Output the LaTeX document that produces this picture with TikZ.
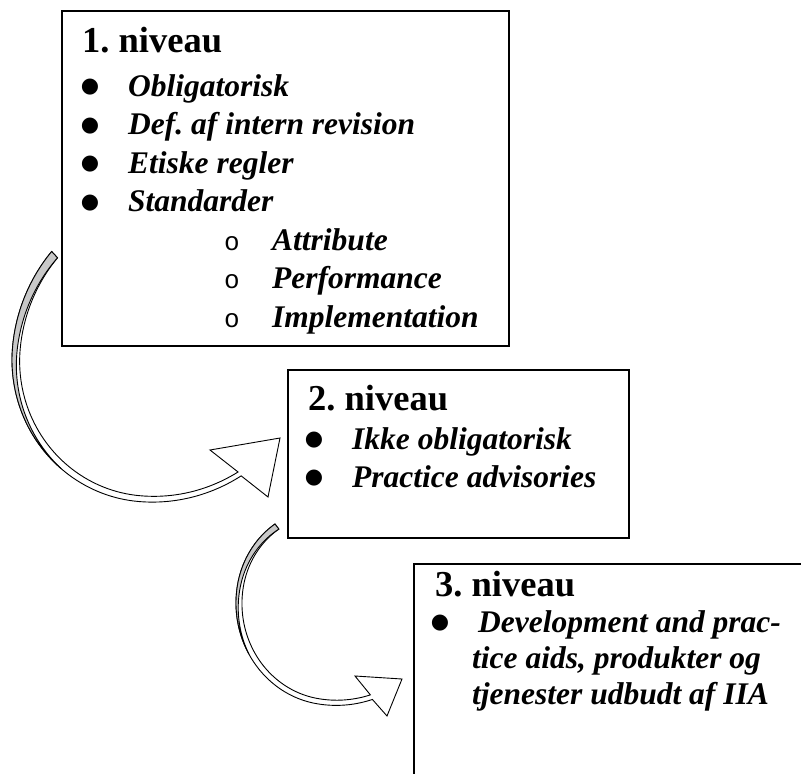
\documentclass[tikz,border=0pt]{standalone}
\usepackage{fontspec}
\setmainfont{Liberation Serif}
\newfontfamily\markfont{Liberation Mono}
\newfontfamily\dotfont{DejaVu Sans}
\frenchspacing
\definecolor{shadegrey}{HTML}{C8C8C8}
\tikzset{
  boxframe/.style={draw=black, line width=1.5pt, fill=white, inner sep=0pt,
    anchor=north west, rectangle},
  headtxt/.style={anchor=base west, inner sep=0pt,
    font=\fontsize{36.5}{40}\selectfont\bfseries},
  itemtxt/.style={anchor=base west, inner sep=0pt,
    font=\fontsize{31.5}{36}\selectfont\bfseries\itshape},
  bul/.style={anchor=base, inner sep=0pt, font=\fontsize{21}{23}\dotfont},
  subbul/.style={anchor=base, inner sep=0pt, font=\fontsize{26}{30}\selectfont\markfont},
  arrowbody/.style={draw=black, line width=0.9pt, fill=white, line join=miter},
  arrowshade/.style={draw=black, line width=0.9pt, fill=shadegrey, line join=round},
  declare function={
    ka(\t)=1+0.045*max(0,(\t-185)/42)^2+0.05*max(0,(95-\t)/44)^2;
    wa(\t)=5+3.6*(\t-51)/176;
    ma(\t)=8.6*max(0,(\t-130)/97);
    kb(\t)=1+0.035*max(0,(100-\t)/34)^2-0.024*max(0,(\t-190)/42.5)^2;
    wb(\t)=5+1.4*(\t-66)/166.5;
    mb(\t)=6.4*max(0,(\t-150)/82.5);
  }
}
\begin{document}
\begin{tikzpicture}[x=1pt, y=-1pt]
\useasboundingbox (0,0) rectangle (801,774);
\clip (0,0) rectangle (801,774);

% arrow heads
\coordinate (a1tip) at (280,438);
\coordinate (a1back) at (210,450);
\coordinate (a1wing) at (268,497);
\coordinate (a2tip) at (402,679);
\coordinate (a2back) at (355,676);
\coordinate (a2wing) at (387,716);

% curved arrow from level 1 to level 2
\draw[arrowbody]
  plot[domain=227:51, samples=90, variable=\t]
    ({150+138*ka(\t)*cos(\t)}, {360+142*ka(\t)*sin(\t)})
  -- (a1wing) -- (a1tip) -- (a1back)
  -- plot[domain=51:227, samples=90, variable=\t]
    ({150+(138*ka(\t)-wa(\t))*cos(\t)}, {360+(142*ka(\t)-wa(\t))*sin(\t)})
  -- cycle;
\draw[arrowshade]
  plot[domain=227:130, samples=60, variable=\t]
    ({150+138*ka(\t)*cos(\t)}, {360+142*ka(\t)*sin(\t)})
  -- plot[domain=130:227, samples=60, variable=\t]
    ({150+(138*ka(\t)-ma(\t))*cos(\t)}, {360+(142*ka(\t)-ma(\t))*sin(\t)})
  -- cycle;

% curved arrow from level 2 to level 3
\draw[arrowbody]
  plot[domain=232.5:66, samples=90, variable=\t]
    ({332+96*kb(\t)*cos(\t)}, {603+102*kb(\t)*sin(\t)})
  -- (a2wing) -- (a2tip) -- (a2back)
  -- plot[domain=66:232.5, samples=90, variable=\t]
    ({332+(96*kb(\t)-wb(\t))*cos(\t)}, {603+(102*kb(\t)-wb(\t))*sin(\t)})
  -- cycle;
\draw[arrowshade]
  plot[domain=232.5:150, samples=60, variable=\t]
    ({332+96*kb(\t)*cos(\t)}, {603+102*kb(\t)*sin(\t)})
  -- plot[domain=150:232.5, samples=60, variable=\t]
    ({332+(96*kb(\t)-mb(\t))*cos(\t)}, {603+(102*kb(\t)-mb(\t))*sin(\t)})
  -- cycle;

% level boxes
\node[boxframe, minimum width=447pt, minimum height=335pt] (box1) at (61,10) {};
\node[boxframe, minimum width=341pt, minimum height=168pt] (box2) at (287,369) {};
\node[boxframe, minimum width=420pt, minimum height=260pt] (box3) at (413,563) {};

% level 1
\node[headtxt] (h1) at (82,52) {1. niveau};
\node[bul] (b1a) at (90,92.5) {●};
\node[bul] (b1b) at (90,131) {●};
\node[bul] (b1c) at (90,169.5) {●};
\node[bul] (b1d) at (90,208) {●};
\node[itemtxt] (t1a) at (128,96) {Obligatorisk};
\node[itemtxt] (t1b) at (128,134.5) {Def. af intern revision};
\node[itemtxt] (t1c) at (128,173) {Etiske regler};
\node[itemtxt] (t1d) at (128,211.5) {Standarder};
\node[subbul] (s1a) at (232,250) {o};
\node[subbul] (s1b) at (232,288.5) {o};
\node[subbul] (s1c) at (232,327) {o};
\node[itemtxt] (u1a) at (272,250) {Attribute};
\node[itemtxt] (u1b) at (272,288.5) {Performance};
\node[itemtxt] (u1c) at (272,327) {Implementation};

% level 2
\node[headtxt] (h2) at (308,410) {2. niveau};
\node[bul] (b2a) at (314,445.5) {●};
\node[bul] (b2b) at (314,483.5) {●};
\node[itemtxt] (t2a) at (352,449) {Ikke obligatorisk};
\node[itemtxt] (t2b) at (352,487) {Practice advisories};

% level 3
\node[headtxt] (h3) at (435,596) {3. niveau};
\node[bul] (b3a) at (440,628.5) {●};
\node[itemtxt] (t3a) at (478,632) {Development and prac-};
\node[itemtxt] (t3b) at (472,668) {tice aids, produkter og};
\node[itemtxt] (t3c) at (472,704) {tjenester udbudt af IIA};
\end{tikzpicture}
\end{document}
